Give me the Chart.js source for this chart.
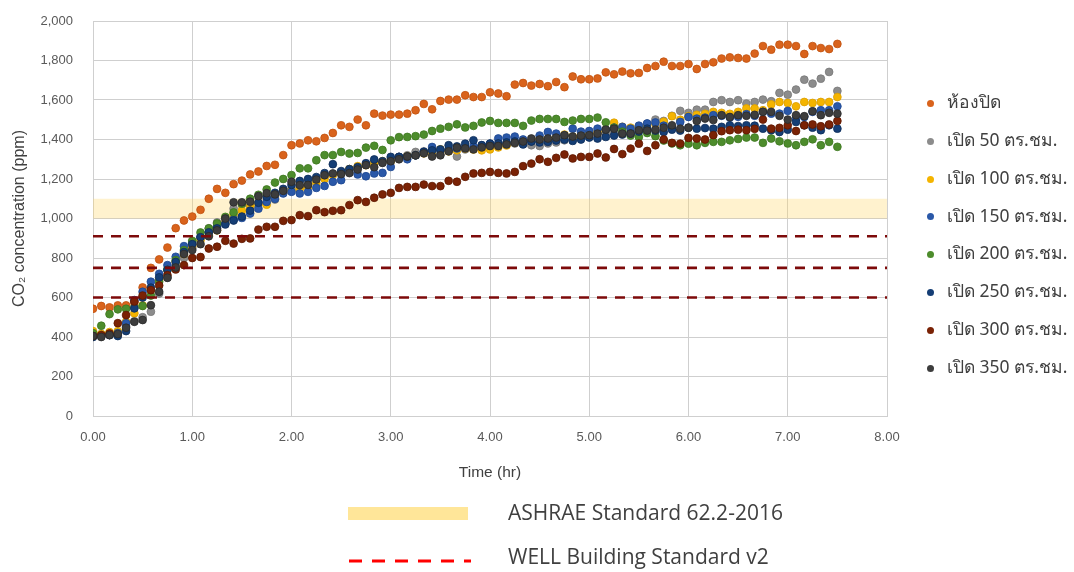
<!DOCTYPE html>
<html>
<head>
<meta charset="utf-8">
<script src="https://cdn.jsdelivr.net/npm/chart.js@4.4.0/dist/chart.umd.min.js"></script>
<style>
body { margin: 0; background: #fff; }
#wrap { position: relative; width: 1074px; height: 572px; }
.leg { position: absolute; left: 927px; font: 17.5px "Noto Sans", "DejaVu Sans", sans-serif; color: #404040; white-space: nowrap; }
.leg span.dot { display: inline-block; width: 7px; height: 7px; border-radius: 50%; margin-right: 13px; vertical-align: middle; }
.std { position: absolute; left: 508px; font: 21px "Open Sans", sans-serif; color: #404040; white-space: nowrap; }
</style>
</head>
<body>
<div id="wrap">
<canvas id="grafico01" width="1074" height="572"></canvas>
<div id="legenda"></div>
<div style="position:absolute;left:348px;top:507px;width:120px;height:13px;background:#ffe699"></div>
<div class="std" style="top:498px">ASHRAE Standard 62.2-2016</div>
<svg style="position:absolute;left:345px;top:555px" width="130" height="12"><line x1="4" y1="6" x2="126" y2="6" stroke="#ff0000" stroke-width="3" stroke-dasharray="13,10"/></svg>
<div class="std" style="top:542px">WELL Building Standard v2</div>
</div>
<script>
// time in minutes from start
var minutos = [0,5,10,15,20,25,30,35,40,45,50,55,60,65,70,75,80,85,90,95,100,105,110,115,120,125,130,135,140,145,
  150,155,160,165,170,175,180,185,190,195,200,205,210,215,220,225,230,235,240,245,250,255,260,265,270,275,280,285,290,295,
  300,305,310,315,320,325,330,335,340,345,350,355,360,365,370,375,380,385,390,395,400,405,410,415,420,425,430,435,440,445,450];

var fechado = [543,557,550,560,560,575,651,750,793,853, 951,990,1010,1044,1100,1150,1130,1174,1192,1223,
  1238,1266,1272,1321,1371,1380,1396,1391,1408,1433, 1472,1464,1501,1472,1531,1521,1526,1526,1531,1548,
  1580,1553,1595,1602,1602,1624,1615,1615,1639,1633, 1619,1678,1686,1673,1681,1670,1691,1665,1719,1705,
  1705,1709,1740,1730,1744,1735,1737,1762,1772,1794, 1772,1772,1782,1757,1782,1791,1810,1816,1813,1810,
  1835,1873,1855,1880,1880,1873,1833,1873,1863,1858, 1884];
var abre50 = [410,415,410,420,455,480,500,528,620,700, 760,800,850,900,950,980,1000,1050,1070,1060,
  1080,1100,1096,1130,1150,1160,1180,1200,1215,1225, 1235,1250,1260,1275,1290,1282,1300,1312,1320,1337,
  1340,1330,1325,1345,1314,1350,1355,1365,1370,1372, 1375,1380,1378,1371,1367,1380,1385,1396,1400,1410,
  1415,1425,1430,1440,1455,1440,1460,1480,1501,1494, 1520,1545,1535,1551,1551,1590,1599,1590,1599,1582,
  1590,1602,1594,1636,1627,1653,1703,1683,1708,1742, 1646];
var abre100 = [430,415,425,430,477,520,560,640,690,740, 780,820,860,890,915,940,980,1020,1040,1060,
  1070,1070,1110,1130,1140,1150,1160,1180,1200,1220, 1230,1250,1265,1270,1278,1290,1290,1310,1315,1320,
  1330,1340,1350,1340,1345,1355,1350,1345,1350,1360, 1370,1385,1395,1390,1405,1400,1410,1425,1415,1420,
  1430,1440,1450,1485,1464,1460,1465,1470,1480,1490, 1518,1500,1518,1525,1530,1540,1535,1530,1540,1557,
  1557,1548,1578,1590,1585,1568,1590,1585,1590,1590, 1615];
var abre150 = [405,405,410,420,470,587,629,680,720,764, 806,860,880,907,932,960,975,995,1003,1025,
  1050,1084,1100,1127,1135,1127,1135,1155,1165,1186, 1194,1236,1223,1214,1228,1231,1261,1312,1300,1320,
  1337,1362,1345,1350,1355,1360,1365,1371,1379,1405, 1410,1415,1400,1390,1420,1438,1430,1420,1455,1440,
  1443,1455,1450,1460,1464,1455,1470,1481,1486,1470, 1460,1489,1514,1506,1511,1523,1520,1511,1515,1528,
  1520,1540,1531,1531,1545,1506,1514,1540,1548,1548, 1568];
var abre200 = [420,457,516,540,543,550,557,610,680,740, 789,840,887,929,950,975,1008,1031,1075,1100,
  1120,1147,1182,1200,1220,1254,1254,1295,1321,1321, 1337,1329,1332,1359,1368,1347,1396,1412,1413,1417,
  1425,1443,1455,1464,1477,1461,1469,1486,1494,1484, 1484,1484,1469,1496,1504,1504,1504,1489,1496,1504,
  1504,1511,1487,1460,1440,1420,1413,1433,1417,1395, 1380,1371,1379,1371,1383,1388,1388,1396,1403,1410,
  1410,1383,1405,1391,1380,1371,1388,1401,1371,1388, 1363];
var abre250 = [400,405,410,405,430,545,600,650,702,740, 780,830,870,905,930,950,970,990,1010,1040,
  1080,1110,1130,1150,1170,1190,1200,1210,1230,1275, 1240,1250,1260,1280,1299,1290,1312,1312,1314,1320,
  1337,1345,1350,1371,1365,1379,1396,1371,1379,1380, 1385,1390,1375,1390,1385,1388,1395,1400,1393,1400,
  1410,1405,1413,1420,1425,1430,1440,1455,1445,1438, 1450,1445,1460,1455,1458,1455,1464,1472,1468,1472,
  1470,1455,1447,1438,1450,1489,1472,1460,1447,1472, 1455];
var abre300 = [405,410,418,470,511,580,610,637,661,713, 742,764,800,805,848,857,887,873,897,899,
  944,958,958,988,992,1017,1012,1042,1032,1039, 1042,1068,1093,1084,1105,1122,1130,1155,1160,1160,
  1172,1164,1164,1191,1186,1211,1228,1231,1236,1231, 1228,1236,1265,1278,1300,1287,1307,1324,1304,1312,
  1312,1329,1309,1352,1326,1354,1379,1342,1371,1400, 1383,1379,1408,1405,1400,1422,1442,1447,1450,1447,
  1454,1501,1455,1459,1472,1443,1472,1476,1467,1476, 1494];
var abre350 = [405,400,410,415,447,477,486,561,629,700, 752,820,840,870,910,940,1000,1082,1082,1085,
  1113,1128,1122,1140,1186,1169,1170,1197,1219,1228, 1225,1230,1248,1270,1260,1282,1290,1300,1314,1320,
  1330,1314,1320,1340,1359,1355,1350,1360,1367,1367, 1375,1383,1390,1405,1400,1405,1410,1422,1415,1420,
  1422,1430,1450,1455,1430,1430,1447,1445,1450,1460, 1472,1455,1460,1494,1506,1499,1523,1514,1523,1520,
  1525,1540,1540,1520,1501,1523,1518,1543,1523,1535, 1531];

var nomes = ['ห้องปิด','เปิด 50 ตร.ชม.','เปิด 100 ตร.ชม.','เปิด 150 ตร.ชม.','เปิด 200 ตร.ชม.','เปิด 250 ตร.ชม.','เปิด 300 ตร.ชม.','เปิด 350 ตร.ชม.'];
var series = [fechado, abre50, abre100, abre150, abre200, abre250, abre300, abre350];
var cores = ['#d9631c','#8c8c8c','#f4b400','#2a58a8','#4d8c2c','#153e75','#7a2205','#3d3d3d'];
var bordas = ['#c0520f','#777777','#dca000','#1e4890','#3d7720','#0d2c58','#5e1800','#2a2a2a'];

var ashrae = [1000, 1100];      // ppm band
var well = [600, 750, 910];      // ppm limits
var xTicks = [0, 8];
var yTicks = [0, 2000];

var datasets = [];
for (var i = 0; i < series.length; i++) {
    var pts = [];
    for (var j = 0; j < minutos.length; j++) {
        pts.push({x: minutos[j] / 60, y: series[i][j]});
    }
    datasets.push({
        label: nomes[i],
        data: pts,
        backgroundColor: cores[i],
        borderColor: bordas[i],
        borderWidth: 0.8,
        pointRadius: 3.9,
        showLine: false,
        order: 10 - i
    });
}
// ASHRAE band
datasets.push({
    type: 'line',
    label: 'ASHRAE',
    data: [{x: xTicks[0], y: ashrae[1]}, {x: xTicks[1], y: ashrae[1]}],
    borderWidth: 0,
    pointRadius: 0,
    fill: {value: ashrae[0]},
    backgroundColor: 'rgba(255, 214, 102, 0.32)',
    order: 30
});
// WELL limits
for (var k = 0; k < well.length; k++) {
    datasets.push({
        type: 'line',
        label: 'WELL',
        data: [{x: xTicks[0], y: well[k]}, {x: xTicks[1], y: well[k]}],
        borderColor: '#7d0a0a',
        borderWidth: 2.6,
        borderDash: [10, 8],
        pointRadius: 0,
        fill: false,
        order: 0
    });
}

var ctx = document.getElementById('grafico01');
var myChart = new Chart(ctx, {
    type: 'scatter',
    data: { datasets: datasets },
    options: {
        responsive: false,
        animation: false,
        layout: { padding: { left: 0, top: 21, right: 187, bottom: 86 } },
        plugins: {
            legend: { display: false },
            tooltip: { enabled: false }
        },
        scales: {
            x: {
                type: 'linear',
                min: xTicks[0],
                max: xTicks[1],
                afterFit: function (s) { s.height = 70; },
                ticks: {
                    stepSize: 1,
                    padding: 14,
                    color: '#595959',
                    font: { family: 'Liberation Sans', size: 13 },
                    callback: function (v) { return v.toFixed(2); }
                },
                grid: { color: '#cfcfcf', drawTicks: false },
                border: { color: '#cfcfcf' },
                title: {
                    display: true,
                    text: 'Time (hr)',
                    color: '#404040',
                    font: { family: 'Liberation Sans', size: 15.5 }
                }
            },
            y: {
                min: yTicks[0],
                max: yTicks[1],
                afterFit: function (s) { s.width = 93; s.paddingTop = 8; s.paddingBottom = 8; },
                ticks: {
                    stepSize: 200,
                    padding: 20,
                    color: '#595959',
                    font: { family: 'Liberation Sans', size: 13 },
                    callback: function (v) { return v.toLocaleString('en-US'); }
                },
                grid: { color: '#cfcfcf', drawTicks: false },
                border: { color: '#cfcfcf' },
                title: {
                    display: true,
                    text: 'CO₂ concentration (ppm)',
                    color: '#404040',
                    padding: { top: 10, bottom: 4 },
                    font: { family: 'Liberation Sans', size: 16 }
                }
            }
        }
    }
});

// legend on the right
var leg = document.getElementById('legenda');
for (var n = 0; n < nomes.length; n++) {
    var d = document.createElement('div');
    d.className = 'leg';
    d.style.top = (100.7 + 37.8 * n - 12.5) + 'px';
    d.innerHTML = '<span class="dot" style="background:' + cores[n] + '"></span>' + nomes[n];
    leg.appendChild(d);
}
</script>
</body>
</html>
